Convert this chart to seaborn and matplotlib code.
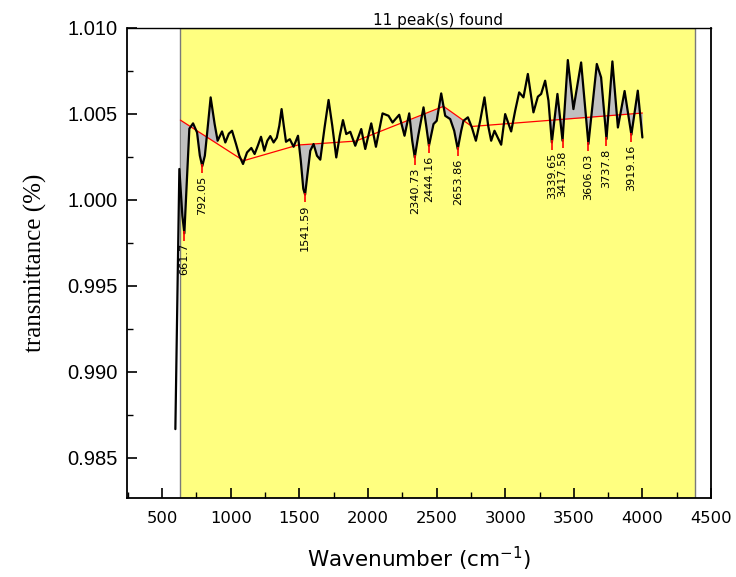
import numpy as np
import matplotlib
matplotlib.use("Agg")
import matplotlib.pyplot as plt
import seaborn as sns
from matplotlib.ticker import MultipleLocator, FormatStrFormatter

# ---------------- data ----------------
wavenumber = [596.2, 625.3, 647.2, 661.7, 679.9, 698.1, 725.1, 754.2, 774.6, 792.05,
              811.0, 827.0, 853.3, 882.4, 904.2, 936.3, 960.3, 985.8, 1009.1, 1038.2,
              1062.3, 1089.2, 1118.4, 1149.7, 1173.7, 1197.0, 1220.3, 1244.3, 1266.2, 1288.0,
              1312.1, 1335.4, 1353.6, 1370.3, 1386.3, 1402.4, 1430.1, 1457.7, 1489.8, 1510.2,
              1528.4, 1541.59, 1557.5, 1579.4, 1603.4, 1628.1, 1652.2, 1683.5, 1712.6, 1739.6,
              1768.7, 1794.2, 1817.5, 1841.5, 1870.7, 1907.1, 1950.8, 1979.9, 2023.6, 2057.8,
              2105.9, 2149.6, 2178.7, 2227.5, 2266.1, 2300.3, 2322.2, 2340.73, 2365.9, 2404.5,
              2424.1, 2444.16, 2477.3, 2500.6, 2533.4, 2562.5, 2598.9, 2628.1, 2653.86, 2679.0,
              2695.8, 2727.8, 2757.0, 2786.1, 2817.4, 2848.7, 2875.7, 2897.5, 2921.6, 2970.4,
              2999.5, 3043.2, 3072.3, 3101.5, 3132.8, 3164.8, 3205.6, 3237.7, 3261.7, 3290.8,
              3314.9, 3339.65, 3380.4, 3417.58, 3456.1, 3496.9, 3553.0, 3606.03, 3667.3, 3698.6,
              3737.8, 3780.9, 3821.0, 3869.8, 3919.16, 3965.9, 3999.4]
transmittance = [0.98667, 1.00179, 0.99907, 0.99805, 1.00110, 1.00413, 1.00444, 1.00391, 1.00256, 1.00195,
                 1.00256, 1.00382, 1.00595, 1.00440, 1.00343, 1.00397, 1.00333, 1.00384, 1.00401, 1.00324,
                 1.00256, 1.00208, 1.00275, 1.00301, 1.00266, 1.00314, 1.00366, 1.00285, 1.00343, 1.00370,
                 1.00333, 1.00361, 1.00430, 1.00527, 1.00430, 1.00337, 1.00352, 1.00308, 1.00372, 1.00227,
                 1.00064, 1.00030, 1.00140, 1.00285, 1.00324, 1.00256, 1.00233, 1.00420, 1.00580, 1.00430,
                 1.00246, 1.00372, 1.00463, 1.00382, 1.00395, 1.00314, 1.00411, 1.00295, 1.00444, 1.00308,
                 1.00502, 1.00488, 1.00449, 1.00494, 1.00372, 1.00502, 1.00343, 1.00246, 1.00372, 1.00537,
                 1.00430, 1.00314, 1.00440, 1.00459, 1.00618, 1.00488, 1.00469, 1.00401, 1.00295, 1.00401,
                 1.00459, 1.00479, 1.00420, 1.00343, 1.00459, 1.00595, 1.00430, 1.00343, 1.00401, 1.00320,
                 1.00498, 1.00397, 1.00517, 1.00624, 1.00595, 1.00731, 1.00508, 1.00599, 1.00615, 1.00692,
                 1.00576, 1.00333, 1.00615, 1.00343, 1.00812, 1.00527, 1.00798, 1.00324, 1.00789, 1.00711,
                 1.00353, 1.00804, 1.00420, 1.00632, 1.00378, 1.00634, 1.00362]

baseline_x = [632.6, 1093.6, 1488.3, 1911.0, 2550.2, 2757.0, 3999.4]
baseline_y = [1.00463, 1.00227, 1.00318, 1.00341, 1.00543, 1.00426, 1.00504]

peak_x = [661.7, 792.05, 1541.59, 2340.73, 2444.16, 2653.86, 3339.65, 3417.58, 3606.03, 3737.8, 3919.16]
peak_y = [0.99805, 1.00195, 1.00030, 1.00246, 1.00314, 1.00295, 1.00333, 1.00343, 1.00324, 1.00353, 1.00378]
peak_labels = ["661.7", "792.05", "1541.59", "2340.73", "2444.16", "2653.86",
               "3339.65", "3417.58", "3606.03", "3737.8", "3919.16"]

fill_regions = [(632.6, 900.0), (1488.3, 1665.0), (2250.0, 2690.0), (3315.0, 3999.4)]
layer_span = (632.6, 4383.0)

title_text = "11 peak(s) found"
x_label = "Wavenumber (cm$^{-1}$)"
y_label = "transmittance (%)"
x_ticks = [500, 1000, 1500, 2000, 2500, 3000, 3500, 4000, 4500]
y_ticks = [0.985, 0.990, 0.995, 1.000, 1.005, 1.010]

# ---------------- drawing ----------------
sns.set_theme(style="ticks")
plt.rcParams["font.family"] = ["DejaVu Sans"]
for key in ["text.color", "axes.labelcolor", "xtick.color", "ytick.color", "axes.edgecolor"]:
    plt.rcParams[key] = "black"
plt.rcParams["lines.solid_joinstyle"] = "round"

fig = plt.figure(figsize=(7.36, 5.77), dpi=100)
ax = fig.add_axes([0.1726, 0.1364, 0.9667 - 0.1726, 0.952 - 0.1364])

ax.axvspan(layer_span[0], layer_span[1], facecolor="#FFFF80", edgecolor="#7a7a7a",
           linewidth=1.0, zorder=0)

cx = np.array(wavenumber)
cy = np.array(transmittance)
for x0, x1 in fill_regions:
    inside = (cx > x0) & (cx < x1)
    xs = np.concatenate([[x0], cx[inside], [x1]])
    ys = np.interp(xs, cx, cy)
    bs = np.interp(xs, baseline_x, baseline_y)
    ax.fill_between(xs, ys, bs, color="#C0C0C0", linewidth=0, zorder=1)

sns.lineplot(x=baseline_x, y=baseline_y, color="#FF0000", linewidth=0.9, ax=ax,
             sort=False, zorder=2)
sns.lineplot(x=wavenumber, y=transmittance, color="black", linewidth=1.6, ax=ax,
             sort=False, estimator=None, zorder=3)

py = np.array(peak_y)
ax.vlines(peak_x, py + 0.00012, py - 0.00042, color="#FF0000", linewidth=1.2, zorder=4)
for x, y, lab in zip(peak_x, peak_y, peak_labels):
    ax.annotate(lab, xy=(x, y), xytext=(0, -7), textcoords="offset points",
                rotation=90, ha="center", va="top", fontsize=8.1,
                family=["DejaVu Sans"], color="black", zorder=5)

ax.set_xlim(244, 4503)
ax.set_ylim(0.98265, 1.010)
ax.set_xticks(x_ticks)
ax.set_yticks(y_ticks)
ax.xaxis.set_minor_locator(MultipleLocator(250))
ax.yaxis.set_minor_locator(MultipleLocator(0.0025))
ax.yaxis.set_major_formatter(FormatStrFormatter("%.3f"))
ax.tick_params(axis="both", which="both", direction="in", bottom=True, left=True,
               top=False, right=False, color="black", labelcolor="black")
ax.tick_params(axis="both", which="major", length=7, width=1.2)
ax.tick_params(axis="both", which="minor", length=4, width=1.0)
ax.tick_params(axis="x", which="major", pad=9)
ax.tick_params(axis="y", which="major", pad=7)
for t in ax.get_xticklabels():
    t.set_fontfamily(["DejaVu Sans"])
    t.set_fontsize(11.8)
for t in ax.get_yticklabels():
    t.set_fontfamily(["Liberation Sans"])
    t.set_fontsize(14.5)

for s in ax.spines.values():
    s.set_linewidth(1.3)
    s.set_color("black")
    s.set_visible(True)
ax.spines["top"].set_linewidth(1.0)

ax.set_xlabel(x_label, fontsize=15.5, family=["DejaVu Sans"], labelpad=14, color="black")
ax.set_ylabel(y_label, fontsize=18, family=["Liberation Serif"], labelpad=14, color="black")

ax.text((layer_span[0] + layer_span[1]) / 2, 1.0, title_text, transform=ax.get_xaxis_transform(),
        ha="center", va="bottom", fontsize=11, family=["DejaVu Sans"], color="black")

ax.set_facecolor("white")
fig.patch.set_facecolor("white")
fig.savefig("out.png", dpi=100)
